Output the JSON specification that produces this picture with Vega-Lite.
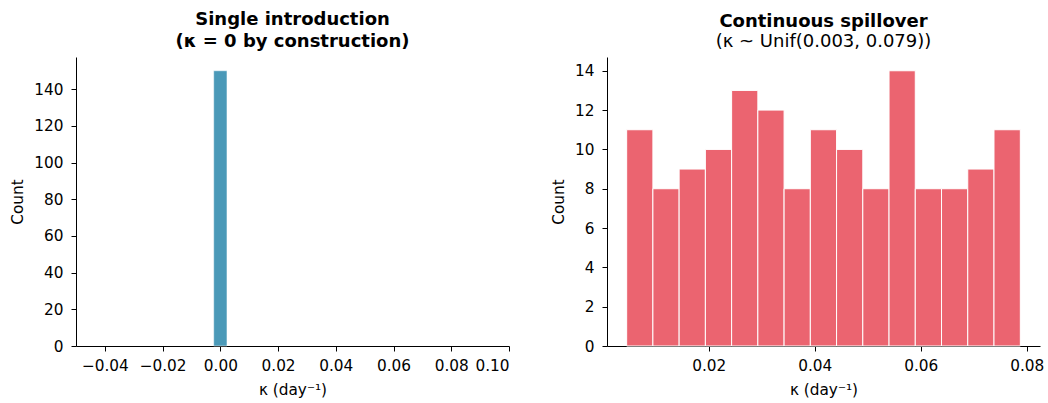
{
  "$schema": "https://vega.github.io/schema/vega-lite/v6.json",
  "background": "white",
  "padding": {"left": 10, "top": 11, "right": 5, "bottom": 5},
  "spacing": 98,
  "bounds": "flush",
  "config": {
    "view": {"stroke": null},
    "font": "DejaVu Sans",
    "axis": {
      "grid": false,
      "domainColor": "black",
      "tickColor": "black",
      "labelColor": "black",
      "titleColor": "black",
      "labelFont": "DejaVu Sans",
      "titleFont": "DejaVu Sans",
      "labelFontSize": 15.3,
      "titleFontSize": 15.3,
      "titleFontWeight": "normal",
      "tickSize": 5,
      "domainWidth": 1,
      "tickWidth": 1
    },
    "axisX": {"labelPadding": 7, "titlePadding": 9},
    "axisY": {"labelPadding": 8, "titlePadding": 8},
    "title": {
      "font": "DejaVu Sans",
      "fontSize": 18,
      "fontWeight": "bold",
      "color": "black",
      "anchor": "middle",
      "subtitleFont": "DejaVu Sans",
      "subtitleFontSize": 18,
      "subtitleColor": "black",
      "subtitleFontWeight": "normal"
    }
  },
  "hconcat": [
    {
      "width": 433,
      "height": 289,
      "title": {"text": ["Single introduction", "(κ = 0 by construction)"], "lineHeight": 22, "offset": 6},
      "data": {"values": [{"bin_start": -0.0023, "bin_end": 0.0023, "count": 150}]},
      "mark": {"type": "rect", "color": "#4a99b8", "stroke": "white", "strokeWidth": 0.5},
      "encoding": {
        "x": {
          "field": "bin_start",
          "type": "quantitative",
          "scale": {"domain": [-0.05, 0.1], "nice": false, "zero": false},
          "axis": {"values": [-0.04, -0.02, 0, 0.02, 0.04, 0.06, 0.08, 0.1], "format": ".2f", "title": "κ (day⁻¹)"}
        },
        "x2": {"field": "bin_end"},
        "y": {
          "field": "count",
          "type": "quantitative",
          "scale": {"domain": [0, 157.5], "nice": false},
          "axis": {"values": [0, 20, 40, 60, 80, 100, 120, 140], "title": "Count"}
        },
        "y2": {"datum": 0}
      }
    },
    {
      "width": 433,
      "height": 289,
      "title": {"text": "Continuous spillover", "subtitle": "(κ ~ Unif(0.003, 0.079))", "subtitlePadding": 2, "offset": 6},
      "data": {"values": [
        {"bin_start": 0.00452, "bin_end": 0.00947, "count": 11},
        {"bin_start": 0.00947, "bin_end": 0.01442, "count": 8},
        {"bin_start": 0.01442, "bin_end": 0.01937, "count": 9},
        {"bin_start": 0.01937, "bin_end": 0.02432, "count": 10},
        {"bin_start": 0.02432, "bin_end": 0.02927, "count": 13},
        {"bin_start": 0.02927, "bin_end": 0.03422, "count": 12},
        {"bin_start": 0.03422, "bin_end": 0.03917, "count": 8},
        {"bin_start": 0.03917, "bin_end": 0.04412, "count": 11},
        {"bin_start": 0.04412, "bin_end": 0.04907, "count": 10},
        {"bin_start": 0.04907, "bin_end": 0.05402, "count": 8},
        {"bin_start": 0.05402, "bin_end": 0.05897, "count": 14},
        {"bin_start": 0.05897, "bin_end": 0.06392, "count": 8},
        {"bin_start": 0.06392, "bin_end": 0.06887, "count": 8},
        {"bin_start": 0.06887, "bin_end": 0.07382, "count": 9},
        {"bin_start": 0.07382, "bin_end": 0.07879, "count": 11}
      ]},
      "mark": {"type": "rect", "color": "#eb6470", "stroke": "white", "strokeWidth": 1},
      "encoding": {
        "x": {
          "field": "bin_start",
          "type": "quantitative",
          "scale": {"domain": [0.00081, 0.0825], "nice": false, "zero": false},
          "axis": {"values": [0.02, 0.04, 0.06, 0.08], "format": ".2f", "title": "κ (day⁻¹)"}
        },
        "x2": {"field": "bin_end"},
        "y": {
          "field": "count",
          "type": "quantitative",
          "scale": {"domain": [0, 14.7], "nice": false},
          "axis": {"values": [0, 2, 4, 6, 8, 10, 12, 14], "title": "Count"}
        },
        "y2": {"datum": 0}
      }
    }
  ]
}
